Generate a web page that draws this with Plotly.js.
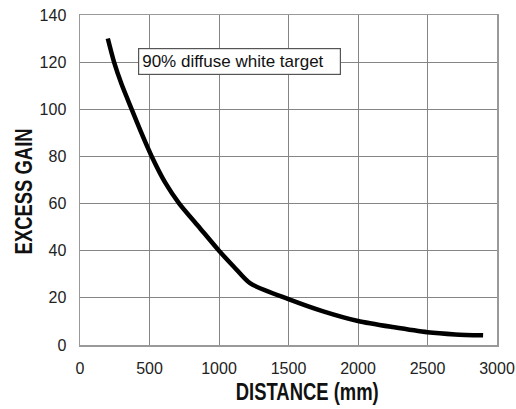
<!DOCTYPE html>
<html>
<head>
<meta charset="utf-8">
<script src="https://cdn.plot.ly/plotly-3.0.1.min.js"></script>
<style>html,body{margin:0;padding:0;background:#fff;}#chart{width:516px;height:409px;}</style>
</head>
<body>
<div id="chart"></div>
<script>
const distance = [200, 245, 300, 372, 440, 516, 612, 714, 850, 1000, 1110, 1223, 1500, 1750, 2000, 2250, 2500, 2700, 2900];
const excessGain = [130, 120, 110.5, 100, 90.2, 80, 69, 60, 50.5, 40, 33, 26.2, 19.5, 14.3, 10.2, 7.6, 5.4, 4.5, 4.1];
const xTicks = [0, 500, 1000, 1500, 2000, 2500, 3000];
const yTicks = [0, 20, 40, 60, 80, 100, 120, 140];
const labelText = "90% diffuse white target";
const xTitle = "DISTANCE (mm)";
const yTitle = "EXCESS GAIN";

const titleFont = {family: 'Arial, Liberation Sans, sans-serif', size: 23, color: '#111', weight: 'bold'};

Plotly.newPlot('chart', [{
  x: distance, y: excessGain, type: 'scatter', mode: 'lines',
  line: {color: '#000', width: 4.5, shape: 'spline', smoothing: 0.7},
  hoverinfo: 'skip'
}], {
  width: 516, height: 409,
  margin: {l: 80, r: 19, t: 15, b: 64},
  paper_bgcolor: '#fff', plot_bgcolor: '#fff',
  showlegend: false,
  font: {family: 'Arial, Liberation Sans, sans-serif', size: 16, color: '#222'},
  xaxis: {
    range: [0, 3000], tickvals: xTicks, ticktext: xTicks.map(String),
    showgrid: true, gridcolor: '#858585', gridwidth: 1,
    zeroline: false, showline: true, linecolor: '#999', linewidth: 1.5, mirror: true,
    ticks: 'outside', ticklen: 8, tickcolor: 'rgba(0,0,0,0)',
    tickfont: {size: 16, color: '#222'}, fixedrange: true
  },
  yaxis: {
    range: [0, 140], tickvals: yTicks, ticktext: yTicks.map(String),
    showgrid: true, gridcolor: '#858585', gridwidth: 1,
    zeroline: false, showline: true, linecolor: '#999', linewidth: 1.5, mirror: true,
    ticks: 'outside', ticklen: 9, tickcolor: 'rgba(0,0,0,0)',
    tickfont: {size: 16, color: '#222'}, fixedrange: true
  },
  annotations: [
    {
      x: 417, y: 120.3, xref: 'x', yref: 'y', xanchor: 'left', yanchor: 'middle',
      text: labelText, showarrow: false, width: 195, align: 'left',
      font: {family: 'Arial, Liberation Sans, sans-serif', size: 17, color: '#111'},
      bgcolor: '#fff', bordercolor: '#555', borderwidth: 1.2, borderpad: 3
    },
    {
      x: (306.5 - 80) / 417, y: (345 - 392) / 330, xref: 'paper', yref: 'paper',
      xanchor: 'center', yanchor: 'middle', showarrow: false,
      text: xTitle, font: titleFont
    },
    {
      x: (24 - 80) / 417, y: (345 - 192) / 330, xref: 'paper', yref: 'paper',
      xanchor: 'center', yanchor: 'middle', showarrow: false, textangle: -90,
      text: yTitle, font: titleFont
    }
  ]
}, {staticPlot: true, displayModeBar: false}).then(function () {
  // condense the bold titles to match the narrow face of the original
  document.querySelectorAll('.annotation-text').forEach(function (t) {
    const s = t.textContent;
    let len = null;
    if (s === xTitle) len = 143;
    if (s === yTitle) len = 126;
    if (len) {
      t.setAttribute('textLength', len);
      t.setAttribute('lengthAdjust', 'spacingAndGlyphs');
    }
  });
});
</script>
</body>
</html>
